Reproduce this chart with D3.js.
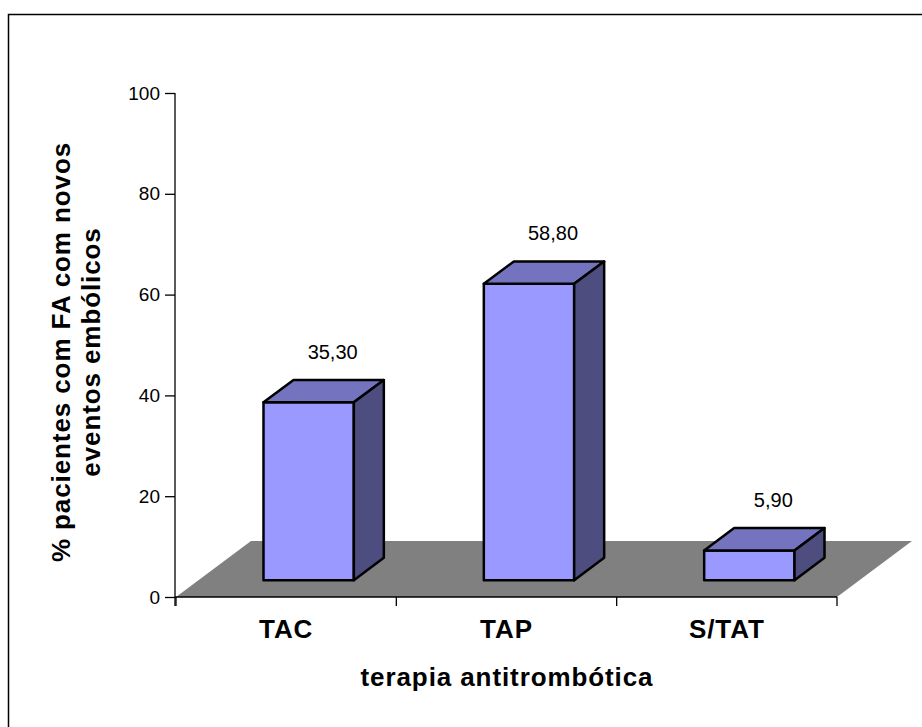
<!DOCTYPE html>
<html>
<head>
<meta charset="utf-8">
<script src="https://cdn.jsdelivr.net/npm/d3@7"></script>
<style>
  html, body { margin: 0; padding: 0; background: #fff; }
  svg { display: block; font-family: Arial, "Liberation Sans", sans-serif; }
</style>
</head>
<body>
<svg id="chart" width="922" height="727"></svg>
<script>
const categories = ["TAC", "TAP", "S/TAT"];
const values = [35.30, 58.80, 5.90];
const yTicks = [0, 20, 40, 60, 80, 100];
const yTitle = ["% pacientes com FA com novos", "eventos embólicos"];
const xTitle = "terapia antitrombótica";

const svg = d3.select("#chart");
const ptBR = d3.formatLocale({ decimal: ",", thousands: ".", grouping: [3], currency: ["R$", ""] });
const fmt = ptBR.format(".2f");

// frame (right/bottom edges run off the picture)
svg.append("rect")
    .attr("x", 8.5).attr("y", 14.5)
    .attr("width", 1000).attr("height", 1000)
    .attr("fill", "none").attr("stroke", "#000").attr("stroke-width", 1.5);

// front plane scales
const x = d3.scaleBand().domain(categories).range([176, 837]);
const y = d3.scaleLinear().domain([0, 100]).range([597, 93]);

// floor depth vector
const depth = { dx: 75, dy: -56 };
const fFront = 0.3, fBack = 0.7;
const barW = x.bandwidth() * 0.41;

const pts = p => p.map(d => d.join(",")).join(" ");

// floor
const y0 = y(0);
svg.append("polygon")
    .attr("points", pts([
        [x.range()[0], y0], [x.range()[1], y0],
        [x.range()[1] + depth.dx, y0 + depth.dy], [x.range()[0] + depth.dx, y0 + depth.dy]
    ]))
    .attr("fill", "#808080");

// y axis
const yAxis = svg.append("g")
    .attr("transform", `translate(175,0)`)
    .call(d3.axisLeft(y).tickValues(yTicks).tickSize(10).tickPadding(5).tickFormat(d3.format("d")));
yAxis.select(".domain").remove();
yAxis.attr("font-size", 19).attr("font-family", "Arial, 'Liberation Sans', sans-serif");
yAxis.selectAll(".tick line").attr("stroke", "#000").attr("stroke-width", 1.3);
yAxis.selectAll(".tick text").attr("fill", "#000");
svg.append("line")
    .attr("x1", 175).attr("x2", 175).attr("y1", y(100)).attr("y2", y0 + 9)
    .attr("stroke", "#000").attr("stroke-width", 1.3);

// x axis (front floor edge)
svg.append("line")
    .attr("x1", 175).attr("x2", x.range()[1]).attr("y1", y0).attr("y2", y0)
    .attr("stroke", "#000").attr("stroke-width", 1.5);
const xTickPos = categories.map(c => x(c)).concat([x.range()[1]]);
svg.selectAll(".xtick").data(xTickPos).join("line")
    .attr("class", "xtick")
    .attr("x1", d => d).attr("x2", d => d)
    .attr("y1", y0).attr("y2", y0 + 9)
    .attr("stroke", "#000").attr("stroke-width", 1.3);

svg.selectAll(".xlab").data(categories).join("text")
    .attr("class", "xlab")
    .attr("x", d => x(d) + x.bandwidth() / 2)
    .attr("y", 638)
    .attr("text-anchor", "middle")
    .attr("font-size", 26).attr("font-weight", "bold")
    .attr("letter-spacing", 0.9)
    .text(d => d);

// bars
const bars = svg.selectAll(".bar").data(categories.map((c, i) => ({ c, v: values[i] }))).join("g")
    .attr("class", "bar");

bars.each(function (d) {
    const g = d3.select(this);
    const x0 = x(d.c) + (x.bandwidth() - barW) / 2 + depth.dx * fFront;
    const x1 = x0 + barW;
    const yb = y0 + depth.dy * fFront;
    const h = y0 - y(d.v);
    const yt = yb - h;
    const ddx = depth.dx * (fBack - fFront), ddy = depth.dy * (fBack - fFront);
    const st = { stroke: "#000", "stroke-width": 2.5, "stroke-linejoin": "round" };
    const poly = (p, fill) => {
        const el = g.append("polygon").attr("points", pts(p)).attr("fill", fill);
        Object.entries(st).forEach(([k, v]) => el.attr(k, v));
    };
    poly([[x0, yb], [x1, yb], [x1, yt], [x0, yt]], "#9999FF");
    poly([[x0, yt], [x1, yt], [x1 + ddx, yt + ddy], [x0 + ddx, yt + ddy]], "#7373BF");
    poly([[x1, yb], [x1 + ddx, yb + ddy], [x1 + ddx, yt + ddy], [x1, yt]], "#4D4D80");

    g.append("text")
        .attr("x", (x0 + x1) / 2 + 24)
        .attr("y", yt + ddy - 21)
        .attr("text-anchor", "middle")
        .attr("font-size", 20)
        .text(fmt(d.v));
});

// axis titles
svg.append("text")
    .attr("x", 507).attr("y", 686)
    .attr("text-anchor", "middle")
    .attr("font-size", 26).attr("font-weight", "bold")
    .attr("letter-spacing", 0.9)
    .text(xTitle);

svg.selectAll(".ytitle").data(yTitle).join("text")
    .attr("class", "ytitle")
    .attr("transform", (d, i) => `translate(${70 + i * 30},352) rotate(-90)`)
    .attr("text-anchor", "middle")
    .attr("font-size", 26).attr("font-weight", "bold")
    .attr("letter-spacing", 0.9)
    .text(d => d);
</script>
</body>
</html>
